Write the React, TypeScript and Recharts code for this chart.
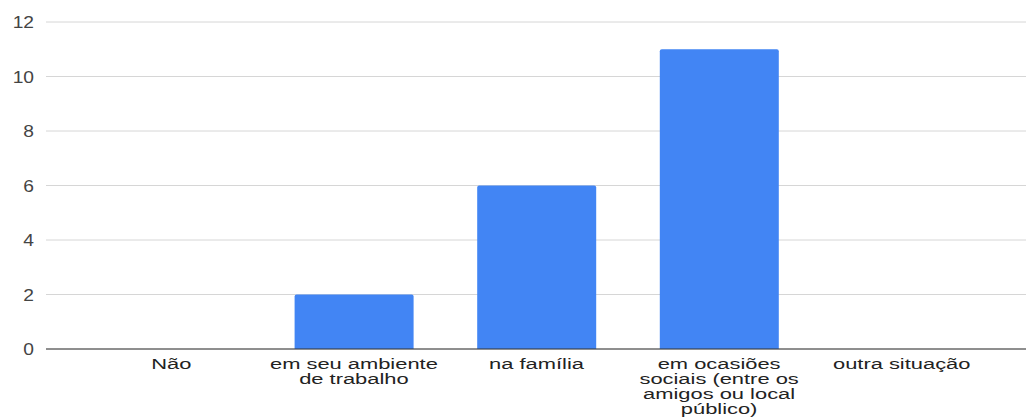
import { BarChart, Bar, XAxis, YAxis, CartesianGrid } from 'recharts'

const categories = [
  'Não',
  'em seu ambiente\nde trabalho',
  'na família',
  'em ocasiões\nsociais (entre os\namigos ou local\npúblico)',
  'outra situação',
]
const counts = [0, 2, 6, 11, 0]
const yTicks = [0, 2, 4, 6, 8, 10, 12]

const data = categories.map((name, i) => ({ name, value: counts[i] }))

const FONT = '"Liberation Sans", Arial, sans-serif'

function XTick({ x, y, payload }: { x?: number; y?: number; payload?: { value: string } }) {
  const lines = String(payload?.value ?? '').split('\n')
  return (
    <g transform={`translate(${x},${y}) scale(1.46,1)`}>
      {lines.map((line, i) => (
        <text
          key={i}
          x={0}
          y={20.5 + i * 15}
          textAnchor="middle"
          fontFamily={FONT}
          fontSize={15}
          fill="#222"
        >
          {line}
        </text>
      ))}
    </g>
  )
}

function YTick({ x, y, payload }: { x?: number; y?: number; payload?: { value: number } }) {
  return (
    <g transform={`translate(${(x ?? 0) - 12},${(y ?? 0) + 6}) scale(1.2,1)`}>
      <text x={0} y={0} textAnchor="end" fontFamily={FONT} fontSize={16} fill="#444">
        {payload?.value}
      </text>
    </g>
  )
}

export default function App() {
  return (
    <div style={{ position: 'absolute', left: 0, top: 0, background: '#fff' }}>
      <BarChart
        width={1026}
        height={418}
        data={data}
        margin={{ top: 22, right: 0, left: 0, bottom: 0 }}
      >
        <CartesianGrid vertical={false} stroke="#d6d6d6" strokeWidth={1} />
        <XAxis
          dataKey="name"
          height={69}
          interval={0}
          padding={{ left: 34, right: 33 }}
          tickLine={false}
          tickSize={0}
          tickMargin={0}
          axisLine={{ stroke: '#333', strokeWidth: 1 }}
          tick={<XTick />}
        />
        <YAxis
          width={46}
          domain={[0, 12]}
          ticks={yTicks}
          axisLine={false}
          tickLine={false}
          tickSize={0}
          tickMargin={0}
          tick={<YTick />}
        />
        <Bar
          dataKey="value"
          fill="#4285F4"
          barSize={119}
          radius={[2, 2, 0, 0]}
          isAnimationActive={false}
        />
      </BarChart>
    </div>
  )
}
